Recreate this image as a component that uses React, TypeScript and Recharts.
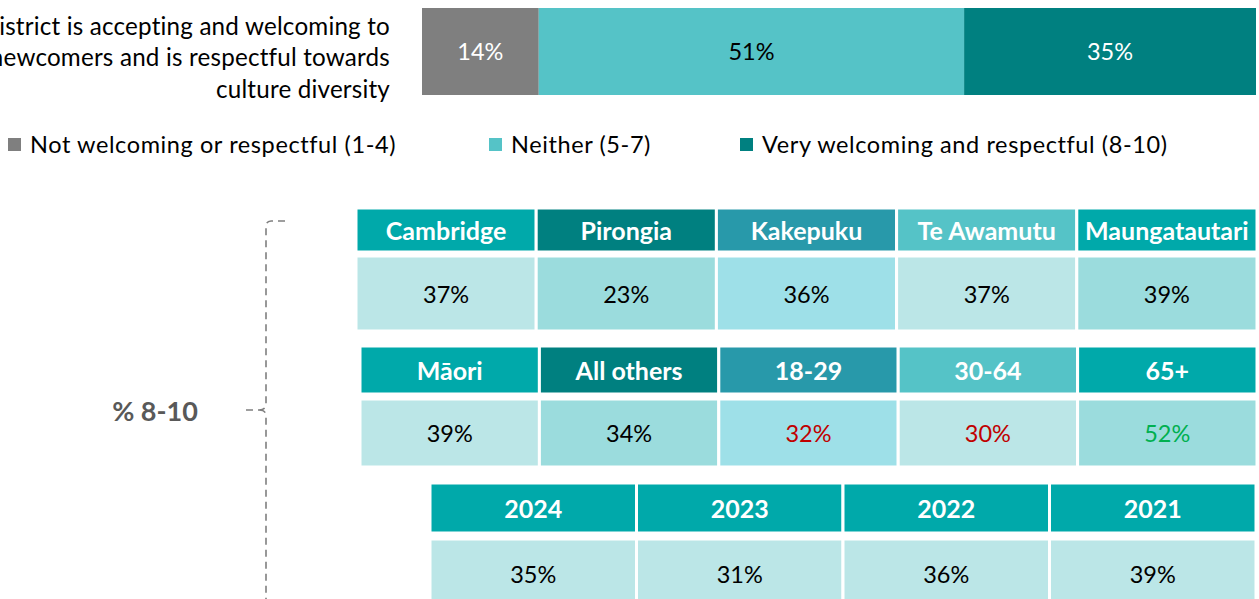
import React from "react";
import { BarChart, Bar, XAxis, YAxis, LabelList } from "recharts";

// ---------- data ----------
const questionLines = [
  "District is accepting and welcoming to",
  "newcomers and is respectful towards",
  "culture diversity",
];
const seriesNames = [
  "Not welcoming or respectful (1-4)",
  "Neither (5-7)",
  "Very welcoming and respectful (8-10)",
];
const seriesKeys = ["low", "mid", "high"];
const seriesValues = [14, 51, 35];
const seriesColors = ["#7F7F7F", "#55C3C7", "#008080"];
const seriesLabelColors = ["#FFFFFF", "#000000", "#FFFFFF"];

const areaNames = ["Cambridge", "Pirongia", "Kakepuku", "Te Awamutu", "Maungatautari"];
const areaValues = [37, 23, 36, 37, 39];
const areaSig = [0, 0, 0, 0, 0];

const groupNames = ["Māori", "All others", "18-29", "30-64", "65+"];
const groupValues = [39, 34, 32, 30, 52];
const groupSig = [0, 0, -1, -1, 1];

const yearNames = ["2024", "2023", "2022", "2021"];
const yearValues = [35, 31, 36, 39];
const yearSig = [0, 0, 0, 0];

const summaryLabel = "% 8-10";

// ---------- styles ----------
const FONT = "Lato, 'Open Sans', sans-serif";
const headFills5 = ["#00A9AA", "#008080", "#2899AA", "#55C3C7", "#00A9AA"];
const valueFills5 = ["#BBE6E7", "#9BDCDD", "#9EE0E8", "#BBE6E7", "#9BDCDD"];
const headFills4 = ["#00A9AA", "#00A9AA", "#00A9AA", "#00A9AA"];
const valueFills4 = ["#BBE6E7", "#BBE6E7", "#BBE6E7", "#BBE6E7"];
const sigColor = (s: number) => (s < 0 ? "#C00000" : s > 0 ? "#00B050" : "#000000");

const topRow: Record<string, any> = { name: "q" };
seriesKeys.forEach((k, i) => (topRow[k] = seriesValues[i]));
const topData = [topRow];

function QuestionTick(props: any) {
  const { x, y } = props;
  const offs = [-16.5, 14, 46.5];
  return (
    <g>
      {questionLines.map((l, i) => (
        <text key={i} x={x - 24} y={y + offs[i]} textAnchor="end" fontFamily={FONT} fontSize={24.2} letterSpacing={0.2} fill="#000">
          {l}
        </text>
      ))}
    </g>
  );
}

type TileProps = {
  labels: string[];
  fills: string[];
  textColors: string[];
  left: number;
  top: number;
  width: number;
  height: number;
  bold?: boolean;
  fontSize: number;
};

function TileRow({ labels, fills, textColors, left, top, width, height, bold, fontSize }: TileProps) {
  const row: Record<string, any> = { name: "r" };
  labels.forEach((_, i) => (row["c" + i] = 1));
  return (
    <div style={{ position: "absolute", left, top }}>
      <BarChart
        width={width}
        height={height}
        data={[row]}
        layout="vertical"
        margin={{ top: 0, right: 0, bottom: 0, left: 0 }}
        barCategoryGap={0}
      >
        <XAxis type="number" domain={[0, labels.length]} hide />
        <YAxis type="category" dataKey="name" hide />
        {labels.map((lab, i) => (
          <Bar
            key={i}
            dataKey={"c" + i}
            stackId="a"
            fill={fills[i]}
            stroke="#FFFFFF"
            strokeWidth={3}
            isAnimationActive={false}
          >
            <LabelList
              dataKey={"c" + i}
              content={(p: any) => (
                <text
                  x={p.x + p.width / 2}
                  y={p.y + p.height / 2}
                  textAnchor="middle"
                  dominantBaseline="central"
                  fontFamily={FONT}
                  fontSize={fontSize}
                  fontWeight={bold ? 700 : 400}
                  fill={textColors[i]}
                >
                  {lab}
                </text>
              )}
            />
          </Bar>
        ))}
      </BarChart>
    </div>
  );
}

const pct = (v: number) => `${v}%`;

export default function App() {
  const legendX = [8, 489, 740];
  return (
    <div style={{ position: "absolute", left: 0, top: 0, width: 1259, height: 599, overflow: "hidden", background: "#fff", fontFamily: FONT }}>
      <div style={{ position: "absolute", left: 0, top: 0 }}>
        <BarChart
          width={1259}
          height={112}
          data={topData}
          layout="vertical"
          margin={{ top: 8, right: 3, bottom: 17, left: 0 }}
          barCategoryGap={0}
        >
          <XAxis type="number" domain={[0, 100]} hide />
          <YAxis type="category" dataKey="name" width={422} axisLine={false} tickLine={false} tick={<QuestionTick />} />
          {seriesKeys.map((k, i) => (
            <Bar key={k} dataKey={k} name={seriesNames[i]} stackId="s" fill={seriesColors[i]} isAnimationActive={false}>
              <LabelList
                dataKey={k}
                position="center"
                formatter={(v: any) => `${v}%`}
                fill={seriesLabelColors[i]}
                fontSize={23.5}
                fontFamily={FONT}
              />
            </Bar>
          ))}
        </BarChart>
      </div>

      {/* legend */}
      {seriesNames.map((n, i) => (
        <div key={n} style={{ position: "absolute", left: legendX[i], top: 130, height: 28, display: "flex", alignItems: "center", whiteSpace: "nowrap" }}>
          <span style={{ display: "inline-block", width: 13, height: 13, background: seriesColors[i], marginRight: 9 }} />
          <span style={{ fontSize: 23.5, letterSpacing: 0.6, color: "#000" }}>{n}</span>
        </div>
      ))}

      {/* bracket */}
      <svg width={1259} height={599} style={{ position: "absolute", left: 0, top: 0 }}>
        <path
          d="M 285 221 L 271 221 Q 266 221 266 227 L 266 404 Q 266 410 259 410 L 243 410 M 259 410 Q 266 410 266 416 L 266 599"
          fill="none"
          stroke="#7F7F7F"
          strokeWidth={1.6}
          strokeDasharray="7 5"
        />
        <text x={155} y={421} textAnchor="middle" fontFamily={FONT} fontWeight={700} fontSize={27} fill="#595959">
          {summaryLabel}
        </text>
      </svg>

      <TileRow labels={areaNames} fills={headFills5} textColors={areaNames.map(() => "#FFFFFF")} left={356} top={208} width={901} height={44} bold fontSize={25} />
      <TileRow labels={areaValues.map(pct)} fills={valueFills5} textColors={areaSig.map(sigColor)} left={356} top={256} width={901} height={75} fontSize={23.5} />

      <TileRow labels={groupNames} fills={headFills5} textColors={groupNames.map(() => "#FFFFFF")} left={360} top={346} width={897} height={48} bold fontSize={25} />
      <TileRow labels={groupValues.map(pct)} fills={valueFills5} textColors={groupSig.map(sigColor)} left={360} top={399} width={897} height={68} fontSize={23.5} />

      <TileRow labels={yearNames} fills={headFills4} textColors={yearNames.map(() => "#FFFFFF")} left={430} top={483} width={826} height={50} bold fontSize={25} />
      <TileRow labels={yearValues.map(pct)} fills={valueFills4} textColors={yearSig.map(sigColor)} left={430} top={539} width={826} height={70} fontSize={23.5} />
    </div>
  );
}
